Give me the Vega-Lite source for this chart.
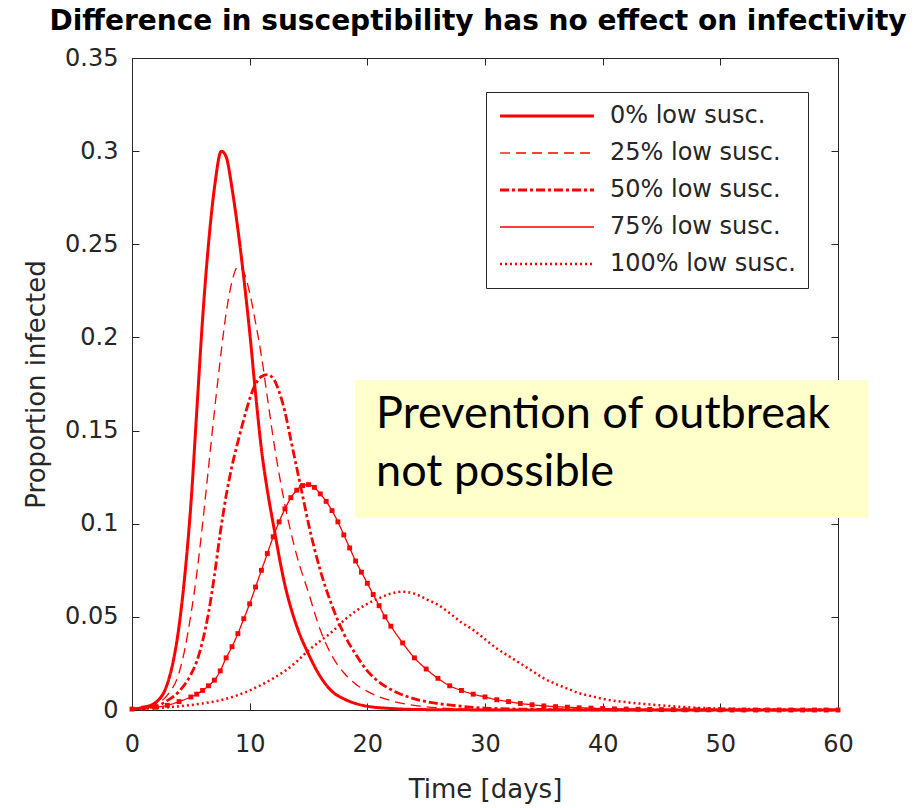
{
  "$schema": "https://vega.github.io/schema/vega-lite/v6.json",
  "width": 706,
  "height": 652,
  "autosize": {"type": "none"},
  "padding": {"left": 132, "top": 58, "right": 86, "bottom": 98},
  "background": "white",
  "title": {
    "text": "Difference in susceptibility has no effect on infectivity",
    "font": "DejaVu Sans",
    "fontSize": 28,
    "fontWeight": "bold",
    "color": "black",
    "anchor": "middle",
    "frame": "group",
    "offset": 10,
    "dx": -7
  },
  "data": {
    "values": [
      {"s": "0% low susc.", "t": 0, "p": 0.0005}, {"s": "0% low susc.", "t": 1, "p": 0.0015}, {"s": "0% low susc.", "t": 2, "p": 0.004},
      {"s": "0% low susc.", "t": 3, "p": 0.014}, {"s": "0% low susc.", "t": 3.5, "p": 0.026}, {"s": "0% low susc.", "t": 4, "p": 0.045},
      {"s": "0% low susc.", "t": 4.5, "p": 0.073}, {"s": "0% low susc.", "t": 5, "p": 0.11}, {"s": "0% low susc.", "t": 5.5, "p": 0.16},
      {"s": "0% low susc.", "t": 6, "p": 0.21}, {"s": "0% low susc.", "t": 6.5, "p": 0.25}, {"s": "0% low susc.", "t": 7, "p": 0.28},
      {"s": "0% low susc.", "t": 7.6, "p": 0.3}, {"s": "0% low susc.", "t": 8, "p": 0.297}, {"s": "0% low susc.", "t": 8.5, "p": 0.28},
      {"s": "0% low susc.", "t": 9, "p": 0.258}, {"s": "0% low susc.", "t": 9.5, "p": 0.232}, {"s": "0% low susc.", "t": 10, "p": 0.203},
      {"s": "0% low susc.", "t": 10.5, "p": 0.17}, {"s": "0% low susc.", "t": 11, "p": 0.14}, {"s": "0% low susc.", "t": 11.5, "p": 0.118},
      {"s": "0% low susc.", "t": 12, "p": 0.1}, {"s": "0% low susc.", "t": 13, "p": 0.067}, {"s": "0% low susc.", "t": 14, "p": 0.045},
      {"s": "0% low susc.", "t": 15, "p": 0.03}, {"s": "0% low susc.", "t": 16, "p": 0.018}, {"s": "0% low susc.", "t": 17, "p": 0.01},
      {"s": "0% low susc.", "t": 18, "p": 0.006}, {"s": "0% low susc.", "t": 19, "p": 0.0035}, {"s": "0% low susc.", "t": 20, "p": 0.002},
      {"s": "0% low susc.", "t": 22, "p": 0.0008}, {"s": "0% low susc.", "t": 25, "p": 0.0002}, {"s": "0% low susc.", "t": 30, "p": 0.00005},
      {"s": "0% low susc.", "t": 40, "p": 0}, {"s": "0% low susc.", "t": 50, "p": 0}, {"s": "0% low susc.", "t": 60, "p": 0},

      {"s": "25% low susc.", "t": 0, "p": 0.0005}, {"s": "25% low susc.", "t": 1, "p": 0.0012}, {"s": "25% low susc.", "t": 2, "p": 0.003},
      {"s": "25% low susc.", "t": 3, "p": 0.008}, {"s": "25% low susc.", "t": 4, "p": 0.02}, {"s": "25% low susc.", "t": 4.5, "p": 0.033},
      {"s": "25% low susc.", "t": 5, "p": 0.051}, {"s": "25% low susc.", "t": 5.5, "p": 0.073}, {"s": "25% low susc.", "t": 6, "p": 0.1},
      {"s": "25% low susc.", "t": 6.5, "p": 0.13}, {"s": "25% low susc.", "t": 7, "p": 0.16}, {"s": "25% low susc.", "t": 7.5, "p": 0.188},
      {"s": "25% low susc.", "t": 8, "p": 0.213}, {"s": "25% low susc.", "t": 8.5, "p": 0.23}, {"s": "25% low susc.", "t": 9, "p": 0.238},
      {"s": "25% low susc.", "t": 9.5, "p": 0.235}, {"s": "25% low susc.", "t": 10, "p": 0.224}, {"s": "25% low susc.", "t": 10.5, "p": 0.208},
      {"s": "25% low susc.", "t": 11, "p": 0.19}, {"s": "25% low susc.", "t": 11.5, "p": 0.168}, {"s": "25% low susc.", "t": 12, "p": 0.146},
      {"s": "25% low susc.", "t": 13, "p": 0.11}, {"s": "25% low susc.", "t": 14, "p": 0.083}, {"s": "25% low susc.", "t": 15, "p": 0.063},
      {"s": "25% low susc.", "t": 16, "p": 0.043}, {"s": "25% low susc.", "t": 17, "p": 0.029}, {"s": "25% low susc.", "t": 18, "p": 0.02},
      {"s": "25% low susc.", "t": 19, "p": 0.014}, {"s": "25% low susc.", "t": 20, "p": 0.01}, {"s": "25% low susc.", "t": 22, "p": 0.005},
      {"s": "25% low susc.", "t": 24, "p": 0.0025}, {"s": "25% low susc.", "t": 26, "p": 0.0012}, {"s": "25% low susc.", "t": 30, "p": 0.0003},
      {"s": "25% low susc.", "t": 40, "p": 0}, {"s": "25% low susc.", "t": 60, "p": 0},

      {"s": "50% low susc.", "t": 0, "p": 0.0005}, {"s": "50% low susc.", "t": 1, "p": 0.001}, {"s": "50% low susc.", "t": 2, "p": 0.002},
      {"s": "50% low susc.", "t": 3, "p": 0.005}, {"s": "50% low susc.", "t": 4, "p": 0.01}, {"s": "50% low susc.", "t": 5, "p": 0.019},
      {"s": "50% low susc.", "t": 5.5, "p": 0.026}, {"s": "50% low susc.", "t": 6, "p": 0.037}, {"s": "50% low susc.", "t": 6.5, "p": 0.052},
      {"s": "50% low susc.", "t": 7, "p": 0.072}, {"s": "50% low susc.", "t": 7.5, "p": 0.095}, {"s": "50% low susc.", "t": 8, "p": 0.115},
      {"s": "50% low susc.", "t": 8.5, "p": 0.131}, {"s": "50% low susc.", "t": 9, "p": 0.144}, {"s": "50% low susc.", "t": 9.5, "p": 0.156},
      {"s": "50% low susc.", "t": 10, "p": 0.167}, {"s": "50% low susc.", "t": 10.5, "p": 0.175}, {"s": "50% low susc.", "t": 11, "p": 0.179},
      {"s": "50% low susc.", "t": 11.5, "p": 0.18}, {"s": "50% low susc.", "t": 12, "p": 0.178}, {"s": "50% low susc.", "t": 12.5, "p": 0.171},
      {"s": "50% low susc.", "t": 13, "p": 0.16}, {"s": "50% low susc.", "t": 13.5, "p": 0.145}, {"s": "50% low susc.", "t": 14, "p": 0.13},
      {"s": "50% low susc.", "t": 14.5, "p": 0.115}, {"s": "50% low susc.", "t": 15, "p": 0.1}, {"s": "50% low susc.", "t": 16, "p": 0.075},
      {"s": "50% low susc.", "t": 17, "p": 0.056}, {"s": "50% low susc.", "t": 18, "p": 0.041}, {"s": "50% low susc.", "t": 19, "p": 0.03},
      {"s": "50% low susc.", "t": 20, "p": 0.021}, {"s": "50% low susc.", "t": 21, "p": 0.015}, {"s": "50% low susc.", "t": 22, "p": 0.011},
      {"s": "50% low susc.", "t": 24, "p": 0.006}, {"s": "50% low susc.", "t": 26, "p": 0.0035}, {"s": "50% low susc.", "t": 28, "p": 0.002},
      {"s": "50% low susc.", "t": 30, "p": 0.001}, {"s": "50% low susc.", "t": 35, "p": 0.0003}, {"s": "50% low susc.", "t": 40, "p": 0.0001},
      {"s": "50% low susc.", "t": 50, "p": 0}, {"s": "50% low susc.", "t": 60, "p": 0},

      {"s": "75% low susc.", "t": 0, "p": 0.0005}, {"s": "75% low susc.", "t": 1, "p": 0.001}, {"s": "75% low susc.", "t": 2, "p": 0.0015},
      {"s": "75% low susc.", "t": 3, "p": 0.0025}, {"s": "75% low susc.", "t": 4, "p": 0.0045}, {"s": "75% low susc.", "t": 5, "p": 0.007},
      {"s": "75% low susc.", "t": 5.5, "p": 0.0085}, {"s": "75% low susc.", "t": 6, "p": 0.0105}, {"s": "75% low susc.", "t": 6.5, "p": 0.013},
      {"s": "75% low susc.", "t": 7, "p": 0.016}, {"s": "75% low susc.", "t": 7.5, "p": 0.021}, {"s": "75% low susc.", "t": 8, "p": 0.028},
      {"s": "75% low susc.", "t": 8.5, "p": 0.034}, {"s": "75% low susc.", "t": 9, "p": 0.041}, {"s": "75% low susc.", "t": 9.5, "p": 0.049},
      {"s": "75% low susc.", "t": 10, "p": 0.057}, {"s": "75% low susc.", "t": 10.5, "p": 0.066}, {"s": "75% low susc.", "t": 11, "p": 0.075},
      {"s": "75% low susc.", "t": 11.5, "p": 0.084}, {"s": "75% low susc.", "t": 12, "p": 0.093}, {"s": "75% low susc.", "t": 12.5, "p": 0.101},
      {"s": "75% low susc.", "t": 13, "p": 0.108}, {"s": "75% low susc.", "t": 13.5, "p": 0.114}, {"s": "75% low susc.", "t": 14, "p": 0.118},
      {"s": "75% low susc.", "t": 14.5, "p": 0.1205}, {"s": "75% low susc.", "t": 15, "p": 0.121}, {"s": "75% low susc.", "t": 15.5, "p": 0.1195},
      {"s": "75% low susc.", "t": 16, "p": 0.116}, {"s": "75% low susc.", "t": 16.5, "p": 0.112}, {"s": "75% low susc.", "t": 17, "p": 0.107},
      {"s": "75% low susc.", "t": 17.5, "p": 0.101}, {"s": "75% low susc.", "t": 18, "p": 0.094}, {"s": "75% low susc.", "t": 18.5, "p": 0.087},
      {"s": "75% low susc.", "t": 19, "p": 0.08}, {"s": "75% low susc.", "t": 19.5, "p": 0.074}, {"s": "75% low susc.", "t": 20, "p": 0.068},
      {"s": "75% low susc.", "t": 20.5, "p": 0.062}, {"s": "75% low susc.", "t": 21, "p": 0.056}, {"s": "75% low susc.", "t": 21.5, "p": 0.05},
      {"s": "75% low susc.", "t": 22, "p": 0.045}, {"s": "75% low susc.", "t": 23, "p": 0.036}, {"s": "75% low susc.", "t": 24, "p": 0.028},
      {"s": "75% low susc.", "t": 25, "p": 0.022}, {"s": "75% low susc.", "t": 26, "p": 0.017}, {"s": "75% low susc.", "t": 27, "p": 0.013},
      {"s": "75% low susc.", "t": 28, "p": 0.0105}, {"s": "75% low susc.", "t": 29, "p": 0.0085}, {"s": "75% low susc.", "t": 30, "p": 0.007},
      {"s": "75% low susc.", "t": 31, "p": 0.0055}, {"s": "75% low susc.", "t": 32, "p": 0.0045}, {"s": "75% low susc.", "t": 33, "p": 0.0035},
      {"s": "75% low susc.", "t": 34, "p": 0.0028}, {"s": "75% low susc.", "t": 35, "p": 0.0022}, {"s": "75% low susc.", "t": 36, "p": 0.0018},
      {"s": "75% low susc.", "t": 37, "p": 0.0015}, {"s": "75% low susc.", "t": 38, "p": 0.0012}, {"s": "75% low susc.", "t": 39, "p": 0.001},
      {"s": "75% low susc.", "t": 40, "p": 0.0008}, {"s": "75% low susc.", "t": 41, "p": 0.0006}, {"s": "75% low susc.", "t": 42, "p": 0.0005},
      {"s": "75% low susc.", "t": 43, "p": 0.0004}, {"s": "75% low susc.", "t": 44, "p": 0.0003}, {"s": "75% low susc.", "t": 45, "p": 0.0002},
      {"s": "75% low susc.", "t": 46, "p": 0.0002}, {"s": "75% low susc.", "t": 47, "p": 0.0001}, {"s": "75% low susc.", "t": 48, "p": 0.0001},
      {"s": "75% low susc.", "t": 49, "p": 0.0001}, {"s": "75% low susc.", "t": 50, "p": 0.0001}, {"s": "75% low susc.", "t": 51, "p": 0},
      {"s": "75% low susc.", "t": 52, "p": 0}, {"s": "75% low susc.", "t": 53, "p": 0}, {"s": "75% low susc.", "t": 54, "p": 0},
      {"s": "75% low susc.", "t": 55, "p": 0}, {"s": "75% low susc.", "t": 56, "p": 0}, {"s": "75% low susc.", "t": 57, "p": 0},
      {"s": "75% low susc.", "t": 58, "p": 0}, {"s": "75% low susc.", "t": 59, "p": 0}, {"s": "75% low susc.", "t": 60, "p": 0},

      {"s": "100% low susc.", "t": 0, "p": 0.0005}, {"s": "100% low susc.", "t": 2, "p": 0.001}, {"s": "100% low susc.", "t": 4, "p": 0.002},
      {"s": "100% low susc.", "t": 6, "p": 0.0035}, {"s": "100% low susc.", "t": 8, "p": 0.006}, {"s": "100% low susc.", "t": 10, "p": 0.0105},
      {"s": "100% low susc.", "t": 11, "p": 0.0135}, {"s": "100% low susc.", "t": 12, "p": 0.017}, {"s": "100% low susc.", "t": 13, "p": 0.021},
      {"s": "100% low susc.", "t": 14, "p": 0.026}, {"s": "100% low susc.", "t": 15, "p": 0.032}, {"s": "100% low susc.", "t": 16, "p": 0.037},
      {"s": "100% low susc.", "t": 17, "p": 0.042}, {"s": "100% low susc.", "t": 18, "p": 0.048}, {"s": "100% low susc.", "t": 19, "p": 0.053},
      {"s": "100% low susc.", "t": 20, "p": 0.057}, {"s": "100% low susc.", "t": 21, "p": 0.06}, {"s": "100% low susc.", "t": 22, "p": 0.0625},
      {"s": "100% low susc.", "t": 23, "p": 0.0635}, {"s": "100% low susc.", "t": 24, "p": 0.0625}, {"s": "100% low susc.", "t": 25, "p": 0.0595},
      {"s": "100% low susc.", "t": 26, "p": 0.0565}, {"s": "100% low susc.", "t": 27, "p": 0.052}, {"s": "100% low susc.", "t": 28, "p": 0.047},
      {"s": "100% low susc.", "t": 29, "p": 0.043}, {"s": "100% low susc.", "t": 30, "p": 0.038}, {"s": "100% low susc.", "t": 31, "p": 0.033},
      {"s": "100% low susc.", "t": 32, "p": 0.029}, {"s": "100% low susc.", "t": 33, "p": 0.025}, {"s": "100% low susc.", "t": 34, "p": 0.021},
      {"s": "100% low susc.", "t": 35, "p": 0.017}, {"s": "100% low susc.", "t": 36, "p": 0.014}, {"s": "100% low susc.", "t": 37, "p": 0.0115},
      {"s": "100% low susc.", "t": 38, "p": 0.009}, {"s": "100% low susc.", "t": 39, "p": 0.0075}, {"s": "100% low susc.", "t": 40, "p": 0.006},
      {"s": "100% low susc.", "t": 42, "p": 0.0042}, {"s": "100% low susc.", "t": 44, "p": 0.003}, {"s": "100% low susc.", "t": 46, "p": 0.002},
      {"s": "100% low susc.", "t": 48, "p": 0.0012}, {"s": "100% low susc.", "t": 50, "p": 0.0008}, {"s": "100% low susc.", "t": 55, "p": 0.0003},
      {"s": "100% low susc.", "t": 60, "p": 0.0001}
    ]
  },
  "resolve": {"axis": {"x": "independent", "y": "independent"}},
  "layer": [
    {
      "mark": {"type": "line", "color": "red", "interpolate": "monotone", "strokeCap": "butt"},
      "encoding": {
        "x": {
          "field": "t", "type": "quantitative",
          "scale": {"domain": [0, 60], "nice": false, "zero": false},
          "axis": {"orient": "bottom", "values": [0, 10, 20, 30, 40, 50, 60], "title": "Time [days]", "labelPadding": 29, "titlePadding": 20, "labelFlush": false}
        },
        "y": {
          "field": "p", "type": "quantitative",
          "scale": {"domain": [0, 0.35], "nice": false},
          "axis": {"orient": "left", "values": [0, 0.05, 0.1, 0.15, 0.2, 0.25, 0.3, 0.35], "format": "~g", "title": "Proportion infected", "labelPadding": 21, "titlePadding": 15, "labelFlush": false}
        },
        "strokeDash": {
          "field": "s", "type": "ordinal",
          "scale": {"type": "ordinal", "domain": ["0% low susc.", "25% low susc.", "50% low susc.", "75% low susc.", "100% low susc."], "range": [[1, 0], [10, 6], [9, 3, 3, 3], [1, 0], [2, 3]]},
          "legend": {"title": null}
        },
        "strokeWidth": {
          "field": "s", "type": "ordinal",
          "scale": {"type": "ordinal", "domain": ["0% low susc.", "25% low susc.", "50% low susc.", "75% low susc.", "100% low susc."], "range": [3, 1.3, 2.8, 1.3, 2.5]},
          "legend": {"title": null}
        }
      }
    },
    {
      "transform": [{"filter": "datum.s === '75% low susc.'"}],
      "mark": {"type": "point", "shape": "square", "filled": true, "size": 24, "color": "red", "opacity": 1},
      "encoding": {
        "x": {"field": "t", "type": "quantitative", "axis": {"orient": "top", "values": [0, 10, 20, 30, 40, 50, 60], "labels": false, "title": null}},
        "y": {"field": "p", "type": "quantitative", "axis": {"orient": "right", "values": [0, 0.05, 0.1, 0.15, 0.2, 0.25, 0.3, 0.35], "labels": false, "title": null}}
      }
    },
    {
      "data": {"values": [{"label": "Prevention of outbreak\nnot possible"}]},
      "mark": {"type": "rect", "color": "#FFFFCC", "opacity": 1},
      "encoding": {
        "x": {"datum": 18.95, "type": "quantitative", "axis": null},
        "x2": {"datum": 62.6},
        "y": {"datum": 0.1771, "type": "quantitative", "axis": null},
        "y2": {"datum": 0.1031}
      }
    },
    {
      "data": {"values": [{"label": "Prevention of outbreak\nnot possible"}]},
      "mark": {"type": "text", "font": "Lato", "fontSize": 45, "color": "black", "align": "left", "baseline": "alphabetic", "lineBreak": "\n", "lineHeight": 58},
      "encoding": {
        "x": {"datum": 20.74, "type": "quantitative", "axis": null},
        "y": {"datum": 0.1514, "type": "quantitative", "axis": null},
        "text": {"field": "label"}
      }
    }
  ],
  "config": {
    "view": {"stroke": null},
    "font": "DejaVu Sans",
    "axis": {
      "grid": false,
      "domainColor": "#262626",
      "domainWidth": 1,
      "tickColor": "#262626",
      "tickSize": -7,
      "tickWidth": 1,
      "labelFont": "DejaVu Sans",
      "labelFontSize": 24,
      "labelColor": "#262626",
      "titleFont": "DejaVu Sans",
      "titleFontSize": 26,
      "titleFontWeight": "normal",
      "titleColor": "#262626"
    },
    "legend": {
      "orient": "none",
      "legendX": 354,
      "legendY": 34,
      "symbolType": "M-1,0H8.4",
      "symbolSize": 400,
      "symbolStrokeColor": "red",
      "labelFont": "DejaVu Sans",
      "labelFontSize": 24,
      "labelColor": "#262626",
      "labelOffset": 88,
      "labelLimit": 0,
      "fillColor": "white",
      "strokeColor": "#262626",
      "padding": 12,
      "rowPadding": 13
    }
  }
}
